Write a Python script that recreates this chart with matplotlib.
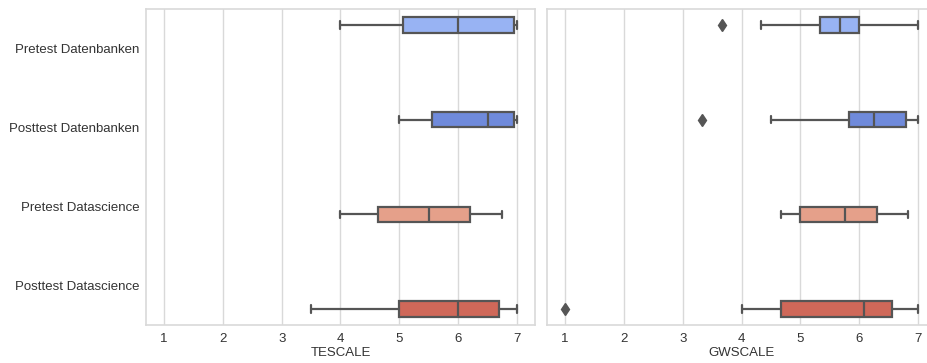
import numpy as np
import matplotlib
matplotlib.use("Agg")
from matplotlib import pyplot as plt
import seaborn as sns

# Kategorien (y-Achse)
categories = ["Pretest Datenbanken", "Posttest Datenbanken",
              "Pretest Datascience", "Posttest Datascience"]

# TESCALE: Kennwerte der Boxplots
te_whislo = [4.0, 5.0, 4.0, 3.5]
te_q1 = [5.07, 5.56, 4.63, 5.0]
te_med = [6.0, 6.5, 5.5, 6.0]
te_q3 = [6.95, 6.95, 6.2, 6.7]
te_whishi = [7.0, 7.0, 6.75, 7.0]
te_fliers = [[], [], [], []]

# GWSCALE: Kennwerte der Boxplots
gw_whislo = [4.33, 4.5, 4.67, 4.0]
gw_q1 = [5.33, 5.83, 5.0, 4.67]
gw_med = [5.67, 6.25, 5.75, 6.08]
gw_q3 = [6.0, 6.8, 6.3, 6.55]
gw_whishi = [7.0, 7.0, 6.83, 7.0]
gw_fliers = [[3.67], [3.33], [], [1.0]]

colors = ["#98b3f3", "#6f8adb", "#e5a08a", "#cf6859"]
xticks = [1, 2, 3, 4, 5, 6, 7]


def make_stats(whislo, q1, med, q3, whishi, fliers):
    """bxp用の統計量リストを作る"""
    stats = []
    for i in range(len(med)):
        stats.append(dict(whislo=whislo[i], q1=q1[i], med=med[i], q3=q3[i],
                          whishi=whishi[i], fliers=fliers[i]))
    return stats


def draw(ax, stats, xlabel):
    n = len(stats)
    offsets = np.linspace(-0.3, 0.3, n)
    gray = "#555555"
    for i, st in enumerate(stats):
        pos = i + offsets[i]
        ax.bxp([st], positions=[pos], widths=0.196, vert=False,
               patch_artist=True, manage_ticks=False,
               boxprops=dict(facecolor=colors[i], edgecolor=gray, linewidth=1.6),
               medianprops=dict(color=gray, linewidth=1.6),
               whiskerprops=dict(color=gray, linewidth=1.6),
               capprops=dict(color=gray, linewidth=1.6),
               flierprops=dict(marker="d", markerfacecolor=gray,
                               markeredgecolor=gray, markersize=6))
    ax.set_xlim(0.7, 7.3)
    ax.set_ylim(3.5, -0.5)
    ax.set_xticks(xticks)
    ax.set_xticklabels([str(t) for t in xticks])
    ax.set_yticks(range(n))
    ax.grid(axis="x", color="#d9d9d9", linewidth=1.0)
    ax.grid(axis="y", visible=False)
    ax.set_axisbelow(True)
    for sp in ax.spines.values():
        sp.set_color("#d9d9d9")
        sp.set_linewidth(1.2)
    ax.tick_params(axis="y", length=0, labelsize=9.5, colors="#333333", pad=5)
    ax.tick_params(axis="x", length=0, labelsize=9.5, colors="#333333", pad=6)
    ax.set_xlabel(xlabel, fontsize=9.5, color="#333333", labelpad=1)


def main():
    sns.set_style("whitegrid")
    plt.rcParams["font.family"] = ["Liberation Sans", "DejaVu Sans"]

    fig = plt.figure(figsize=(9.28, 3.63), dpi=100)
    ax1 = fig.add_axes([0.1577, 0.1047, 0.4184, 0.8705])
    ax2 = fig.add_axes([0.5899, 0.1047, 0.4184, 0.8705], sharey=ax1)

    draw(ax1, make_stats(te_whislo, te_q1, te_med, te_q3, te_whishi, te_fliers), "TESCALE")
    draw(ax2, make_stats(gw_whislo, gw_q1, gw_med, gw_q3, gw_whishi, gw_fliers), "GWSCALE")

    ax1.set_yticklabels(categories)
    ax2.tick_params(axis="y", labelleft=False)

    fig.savefig("out.png", dpi=100)


if __name__ == "__main__":
    main()
